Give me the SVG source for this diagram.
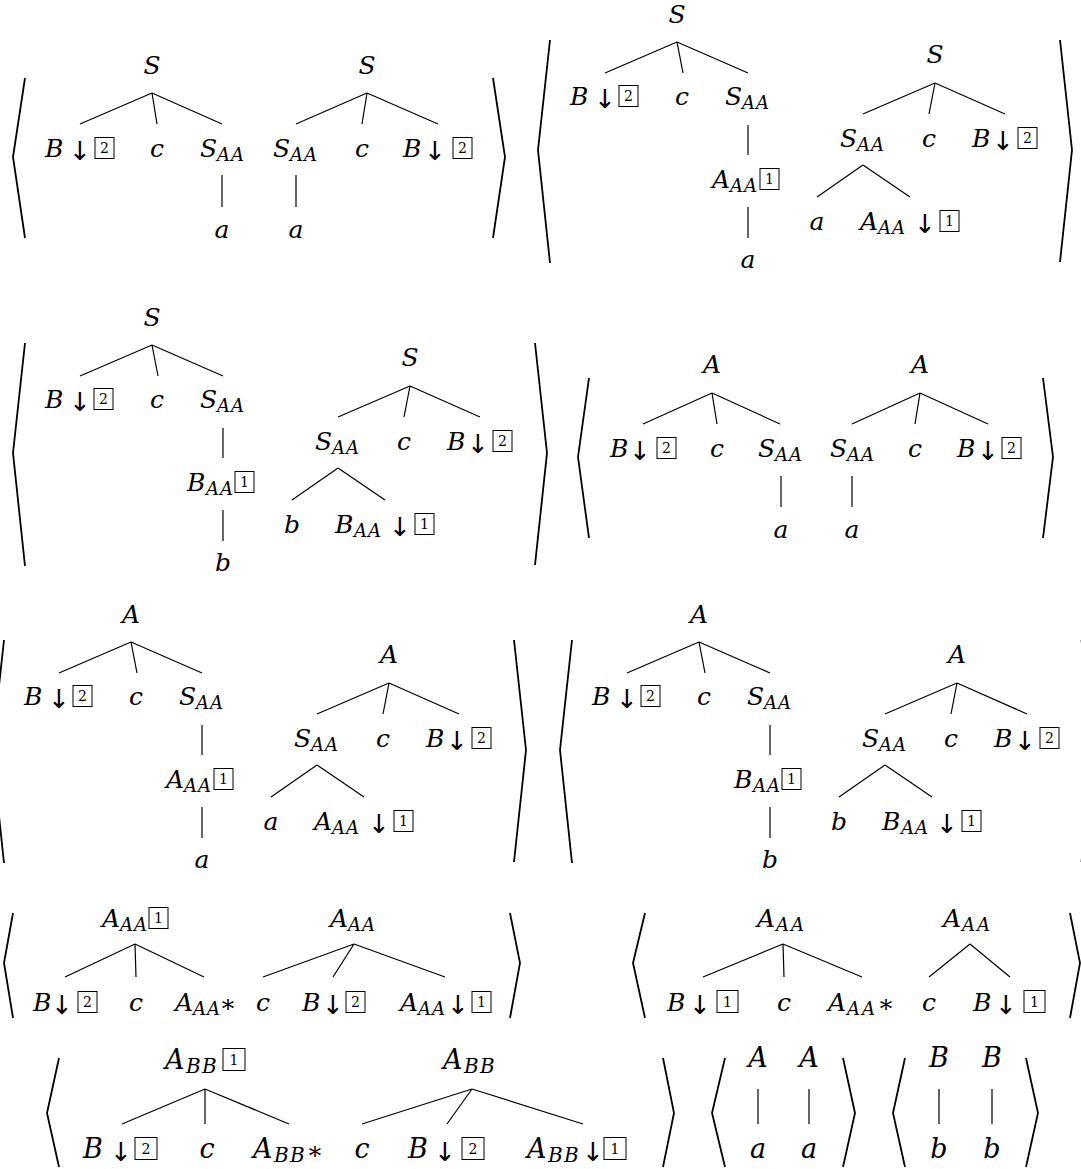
<svg xmlns="http://www.w3.org/2000/svg" width="1081" height="1169" viewBox="0 0 1081 1169">
<style>
.t{font-family:"DejaVu Serif",serif;font-style:italic;font-size:25px;fill:#000}
.L{font-size:27px}
.c{text-anchor:middle}
.sb{font-size:18px}
.sbL{font-size:20px}
.ar{font-family:"DejaVu Sans",sans-serif;font-style:normal;font-size:26px;text-anchor:middle;fill:#000}
.n{font-family:"DejaVu Serif",serif;font-style:normal;font-size:14px;text-anchor:middle;fill:#000}
.st{font-family:"DejaVu Serif",serif;font-style:normal;font-size:25px;text-anchor:middle;fill:#000}
.bx{fill:none;stroke:#000;stroke-width:1}
.e{stroke:#000;stroke-width:1.2;fill:none}
.br{stroke:#000;stroke-width:1.8;fill:none}
</style>
<rect width="1081" height="1169" fill="#fff"/>

<!-- angle brackets around each tree pair -->
<g id="brackets">
<path class="br" d="M25,78 L13,157 L25,238"/><path class="br" d="M493,78 L505,157 L493,238"/>
<path class="br" d="M550,40 L538,150 L550,263"/><path class="br" d="M1060,40 L1072,150 L1060,262"/>
<path class="br" d="M25,343 L13,453 L25,566"/><path class="br" d="M535,343 L547,453 L535,565"/>
<path class="br" d="M589,378 L578,457 L589,538"/><path class="br" d="M1043,378 L1053,457 L1043,538"/>
<path class="br" d="M4,640 L-8,750 L4,863"/><path class="br" d="M514,640 L526,750 L514,862"/>
<path class="br" d="M572,640 L560,750 L572,863"/><path class="br" d="M1081.5,640 L1093,750 L1081.5,862"/>
<path class="br" d="M13,913 L4,963 L13,1018"/><path class="br" d="M510,913 L520,963 L510,1018"/>
<path class="br" d="M645,913 L633,963 L645,1018"/><path class="br" d="M1070,913 L1080,963 L1070,1018"/>
<path class="br" d="M59,1058 L47,1113 L59,1167"/><path class="br" d="M663,1058 L674,1113 L663,1167"/>
<path class="br" d="M725,1058 L712,1113 L725,1167"/><path class="br" d="M843,1058 L855,1113 L843,1167"/>
<path class="br" d="M905,1058 L893,1113 L905,1167"/><path class="br" d="M1026,1058 L1038,1113 L1026,1167"/>
</g>

<!-- tree edges -->
<g id="edges">
<path class="e" d="M152,93 L80,124 M152,93 L157,124 M152,93 L222,124 M222,175 L222,207"/>
<path class="e" d="M367,93 L296,124 M367,93 L362,124 M367,93 L438,124 M296,175 L296,207"/>
<path class="e" d="M677,42 L605,73 M677,42 L683,73 M677,42 L748,73 M748,125 L748,155 M748,207 L748,238"/>
<path class="e" d="M935,83 L863,114 M935,83 L929,114 M935,83 L1005,114 M863,165 L817,197 M863,165 L910,197"/>
<path class="e" d="M152,345 L80,376 M152,345 L158,376 M152,345 L223,376 M223,428 L223,458 M223,510 L223,541"/>
<path class="e" d="M410,386 L338,417 M410,386 L404,417 M410,386 L480,417 M338,468 L292,500 M338,468 L385,500"/>
<path class="e" d="M712,393 L643,424 M712,393 L717,424 M712,393 L780,424 M781,476 L781,507"/>
<path class="e" d="M920,393 L852,424 M920,393 L915,424 M920,393 L988,424 M852,476 L852,507"/>
<path class="e" d="M131,642 L59,673 M131,642 L137,673 M131,642 L202,673 M202,725 L202,755 M202,807 L202,838"/>
<path class="e" d="M389,683 L317,714 M389,683 L383,714 M389,683 L459,714 M317,765 L271,797 M317,765 L364,797"/>
<path class="e" d="M699,642 L627,673 M699,642 L705,673 M699,642 L770,673 M770,725 L770,755 M770,807 L770,838"/>
<path class="e" d="M957,683 L885,714 M957,683 L951,714 M957,683 L1027,714 M885,765 L839,797 M885,765 L932,797"/>
<path class="e" d="M135,944 L65,977 M135,944 L136,977 M135,944 L204,977"/>
<path class="e" d="M354,944 L263,977 M354,944 L333,977 M354,944 L445,977"/>
<path class="e" d="M783,944 L703,977 M783,944 L784,977 M783,944 L862,977"/>
<path class="e" d="M970,944 L929,977 M970,944 L1010,977"/>
<path class="e" d="M205,1089 L122,1124 M205,1089 L205,1124 M205,1089 L289,1124"/>
<path class="e" d="M472,1089 L362,1124 M472,1089 L447,1124 M472,1089 L583,1124"/>
<path class="e" d="M758,1089 L758,1124 M809,1089 L809,1124 M939,1089 L939,1124 M992,1089 L992,1124"/>
</g>

<!-- pair 1 -->
<g id="p1-s1"><text class="t c" x="152" y="74">S</text></g>
<g id="p1-b1"><text class="t" x="45" y="157">B</text><text class="ar" x="80" y="160">↓</text><rect class="bx" x="95" y="137.5" width="19" height="21"/><text class="n" x="104.5" y="153">2</text></g>
<g id="p1-c1"><text class="t c" x="157" y="157">c</text></g>
<g id="p1-saa1"><text class="t" x="200" y="157">S<tspan class="sb" x="217 231" dy="4">AA</tspan></text></g>
<g id="p1-a1"><text class="t c" x="222" y="238">a</text></g>
<g id="p1-s2"><text class="t c" x="367" y="74">S</text></g>
<g id="p1-saa2"><text class="t" x="273" y="157">S<tspan class="sb" x="290 304" dy="4">AA</tspan></text></g>
<g id="p1-c2"><text class="t c" x="362" y="157">c</text></g>
<g id="p1-b2"><text class="t" x="403" y="157">B</text><text class="ar" x="435" y="160">↓</text><rect class="bx" x="453" y="137.5" width="19" height="21"/><text class="n" x="462.5" y="153">2</text></g>
<g id="p1-a2"><text class="t c" x="296" y="238">a</text></g>

<!-- pair 2 -->
<g id="p2-s1"><text class="t c" x="677" y="23">S</text></g>
<g id="p2-b1"><text class="t" x="570" y="105">B</text><text class="ar" x="605" y="108">↓</text><rect class="bx" x="619" y="85.5" width="19" height="21"/><text class="n" x="628.5" y="101">2</text></g>
<g id="p2-c1"><text class="t c" x="682" y="105">c</text></g>
<g id="p2-saa1"><text class="t" x="725" y="105">S<tspan class="sb" x="742 756" dy="4">AA</tspan></text></g>
<g id="p2-aaa1"><text class="t" x="712" y="188">A<tspan class="sb" x="730 744" dy="4">AA</tspan></text><rect class="bx" x="760" y="168.5" width="19" height="21"/><text class="n" x="769.5" y="184">1</text></g>
<g id="p2-a1"><text class="t c" x="748" y="268">a</text></g>
<g id="p2-s2"><text class="t c" x="935" y="63">S</text></g>
<g id="p2-saa2"><text class="t" x="840" y="147">S<tspan class="sb" x="857 871" dy="4">AA</tspan></text></g>
<g id="p2-c2"><text class="t c" x="929" y="147">c</text></g>
<g id="p2-b2"><text class="t" x="972" y="147">B</text><text class="ar" x="1003" y="150">↓</text><rect class="bx" x="1018" y="127.5" width="19" height="21"/><text class="n" x="1027.5" y="143">2</text></g>
<g id="p2-a2"><text class="t c" x="817" y="230">a</text></g>
<g id="p2-aaa2"><text class="t" x="860" y="230">A<tspan class="sb" x="878 892" dy="4">AA</tspan></text><text class="ar" x="925" y="233">↓</text><rect class="bx" x="940" y="210.5" width="19" height="21"/><text class="n" x="949.5" y="226">1</text></g>

<!-- pair 3 -->
<g id="p3-s1"><text class="t c" x="152" y="326">S</text></g>
<g id="p3-b1"><text class="t" x="45" y="408">B</text><text class="ar" x="80" y="411">↓</text><rect class="bx" x="94" y="388.5" width="19" height="21"/><text class="n" x="103.5" y="404">2</text></g>
<g id="p3-c1"><text class="t c" x="157" y="408">c</text></g>
<g id="p3-saa1"><text class="t" x="200" y="408">S<tspan class="sb" x="217 231" dy="4">AA</tspan></text></g>
<g id="p3-baa1"><text class="t" x="187" y="491">B<tspan class="sb" x="206 220" dy="4">AA</tspan></text><rect class="bx" x="235" y="471.5" width="19" height="21"/><text class="n" x="244.5" y="487">1</text></g>
<g id="p3-b-leaf1"><text class="t c" x="223" y="571">b</text></g>
<g id="p3-s2"><text class="t c" x="410" y="366">S</text></g>
<g id="p3-saa2"><text class="t" x="315" y="450">S<tspan class="sb" x="332 346" dy="4">AA</tspan></text></g>
<g id="p3-c2"><text class="t c" x="404" y="450">c</text></g>
<g id="p3-b2"><text class="t" x="447" y="450">B</text><text class="ar" x="478" y="453">↓</text><rect class="bx" x="493" y="430.5" width="19" height="21"/><text class="n" x="502.5" y="446">2</text></g>
<g id="p3-b-leaf2"><text class="t c" x="292" y="533">b</text></g>
<g id="p3-baa2"><text class="t" x="335" y="533">B<tspan class="sb" x="354 368" dy="4">AA</tspan></text><text class="ar" x="400" y="536">↓</text><rect class="bx" x="415" y="513.5" width="19" height="21"/><text class="n" x="424.5" y="529">1</text></g>

<!-- pair 4 -->
<g id="p4-a1"><text class="t c" x="712" y="373">A</text></g>
<g id="p4-b1"><text class="t" x="610" y="457">B</text><text class="ar" x="640" y="460">↓</text><rect class="bx" x="657" y="437.5" width="19" height="21"/><text class="n" x="666.5" y="453">2</text></g>
<g id="p4-c1"><text class="t c" x="717" y="457">c</text></g>
<g id="p4-saa1"><text class="t" x="758" y="457">S<tspan class="sb" x="775 789" dy="4">AA</tspan></text></g>
<g id="p4-a-leaf1"><text class="t c" x="781" y="538">a</text></g>
<g id="p4-a2"><text class="t c" x="920" y="373">A</text></g>
<g id="p4-saa2"><text class="t" x="830" y="457">S<tspan class="sb" x="847 861" dy="4">AA</tspan></text></g>
<g id="p4-c2"><text class="t c" x="915" y="457">c</text></g>
<g id="p4-b2"><text class="t" x="957" y="457">B</text><text class="ar" x="988" y="460">↓</text><rect class="bx" x="1002" y="437.5" width="19" height="21"/><text class="n" x="1011.5" y="453">2</text></g>
<g id="p4-a-leaf2"><text class="t c" x="852" y="538">a</text></g>

<!-- pair 5 -->
<g id="p5-a1"><text class="t c" x="131" y="623">A</text></g>
<g id="p5-b1"><text class="t" x="24" y="705">B</text><text class="ar" x="59" y="708">↓</text><rect class="bx" x="73" y="685.5" width="19" height="21"/><text class="n" x="82.5" y="701">2</text></g>
<g id="p5-c1"><text class="t c" x="136" y="705">c</text></g>
<g id="p5-saa1"><text class="t" x="179" y="705">S<tspan class="sb" x="196 210" dy="4">AA</tspan></text></g>
<g id="p5-aaa1"><text class="t" x="166" y="788">A<tspan class="sb" x="184 198" dy="4">AA</tspan></text><rect class="bx" x="214" y="768.5" width="19" height="21"/><text class="n" x="223.5" y="784">1</text></g>
<g id="p5-a-leaf1"><text class="t c" x="202" y="868">a</text></g>
<g id="p5-a2"><text class="t c" x="389" y="663">A</text></g>
<g id="p5-saa2"><text class="t" x="294" y="747">S<tspan class="sb" x="311 325" dy="4">AA</tspan></text></g>
<g id="p5-c2"><text class="t c" x="383" y="747">c</text></g>
<g id="p5-b2"><text class="t" x="426" y="747">B</text><text class="ar" x="457" y="750">↓</text><rect class="bx" x="472" y="727.5" width="19" height="21"/><text class="n" x="481.5" y="743">2</text></g>
<g id="p5-a-leaf2"><text class="t c" x="271" y="830">a</text></g>
<g id="p5-aaa2"><text class="t" x="314" y="830">A<tspan class="sb" x="332 346" dy="4">AA</tspan></text><text class="ar" x="379" y="833">↓</text><rect class="bx" x="394" y="810.5" width="19" height="21"/><text class="n" x="403.5" y="826">1</text></g>

<!-- pair 6 -->
<g id="p6-a1"><text class="t c" x="699" y="623">A</text></g>
<g id="p6-b1"><text class="t" x="592" y="705">B</text><text class="ar" x="627" y="708">↓</text><rect class="bx" x="641" y="685.5" width="19" height="21"/><text class="n" x="650.5" y="701">2</text></g>
<g id="p6-c1"><text class="t c" x="704" y="705">c</text></g>
<g id="p6-saa1"><text class="t" x="747" y="705">S<tspan class="sb" x="764 778" dy="4">AA</tspan></text></g>
<g id="p6-baa1"><text class="t" x="734" y="788">B<tspan class="sb" x="753 767" dy="4">AA</tspan></text><rect class="bx" x="782" y="768.5" width="19" height="21"/><text class="n" x="791.5" y="784">1</text></g>
<g id="p6-b-leaf1"><text class="t c" x="770" y="868">b</text></g>
<g id="p6-a2"><text class="t c" x="957" y="663">A</text></g>
<g id="p6-saa2"><text class="t" x="862" y="747">S<tspan class="sb" x="879 893" dy="4">AA</tspan></text></g>
<g id="p6-c2"><text class="t c" x="951" y="747">c</text></g>
<g id="p6-b2"><text class="t" x="994" y="747">B</text><text class="ar" x="1025" y="750">↓</text><rect class="bx" x="1040" y="727.5" width="19" height="21"/><text class="n" x="1049.5" y="743">2</text></g>
<g id="p6-b-leaf2"><text class="t c" x="839" y="830">b</text></g>
<g id="p6-baa2"><text class="t" x="882" y="830">B<tspan class="sb" x="901 915" dy="4">AA</tspan></text><text class="ar" x="947" y="833">↓</text><rect class="bx" x="962" y="810.5" width="19" height="21"/><text class="n" x="971.5" y="826">1</text></g>

<!-- pair 7 -->
<g id="p7-aaa1"><text class="t" x="102" y="927">A<tspan class="sb" x="120 134" dy="4">AA</tspan></text><rect class="bx" x="149" y="907.5" width="19" height="21"/><text class="n" x="158.5" y="923">1</text></g>
<g id="p7-b1"><text class="t" x="33" y="1011">B</text><text class="ar" x="62" y="1014">↓</text><rect class="bx" x="78" y="991.5" width="19" height="21"/><text class="n" x="87.5" y="1007">2</text></g>
<g id="p7-c1"><text class="t c" x="136" y="1011">c</text></g>
<g id="p7-foot"><text class="t" x="175" y="1011">A<tspan class="sb" x="193 207" dy="4">AA</tspan></text><text class="st" x="228" y="1017">*</text></g>
<g id="p7-c2"><text class="t c" x="263" y="1011">c</text></g>
<g id="p7-aaa2"><text class="t" x="330" y="927">A<tspan class="sb" x="348 362" dy="4">AA</tspan></text></g>
<g id="p7-b2"><text class="t" x="302" y="1011">B</text><text class="ar" x="333" y="1014">↓</text><rect class="bx" x="346" y="991.5" width="19" height="21"/><text class="n" x="355.5" y="1007">2</text></g>
<g id="p7-aaa3"><text class="t" x="400" y="1011">A<tspan class="sb" x="418 432" dy="4">AA</tspan></text><text class="ar" x="458" y="1014">↓</text><rect class="bx" x="472" y="991.5" width="19" height="21"/><text class="n" x="481.5" y="1007">1</text></g>

<!-- pair 8 -->
<g id="p8-aaa1"><text class="t" x="757" y="927">A<tspan class="sb" x="776 791" dy="4">AA</tspan></text></g>
<g id="p8-b1"><text class="t" x="667" y="1011">B</text><text class="ar" x="700" y="1014">↓</text><rect class="bx" x="717" y="990.5" width="21" height="22"/><text class="n" x="727.5" y="1007">1</text></g>
<g id="p8-c1"><text class="t c" x="784" y="1011">c</text></g>
<g id="p8-foot"><text class="t" x="828" y="1011">A<tspan class="sb" x="847 862" dy="4">AA</tspan></text><text class="st" x="886" y="1017">*</text></g>
<g id="p8-c2"><text class="t c" x="929" y="1011">c</text></g>
<g id="p8-b2"><text class="t" x="973" y="1011">B</text><text class="ar" x="1006" y="1014">↓</text><rect class="bx" x="1024" y="990.5" width="21" height="22"/><text class="n" x="1034.5" y="1007">1</text></g>
<g id="p8-aaa2"><text class="t" x="943" y="927">A<tspan class="sb" x="962 977" dy="4">AA</tspan></text></g>

<!-- pair 9 -->
<g id="p9-abb1"><text class="t L" x="165" y="1069">A<tspan class="sbL" x="186 202" dy="4">BB</tspan></text><rect class="bx" x="223" y="1048.5" width="22" height="22"/><text class="n" x="234" y="1065">1</text></g>
<g id="p9-b1"><text class="t L" x="83" y="1158">B</text><text class="ar" x="121" y="1161">↓</text><rect class="bx" x="135" y="1137.5" width="22" height="22"/><text class="n" x="146" y="1154">2</text></g>
<g id="p9-c1"><text class="t L c" x="207" y="1158">c</text></g>
<g id="p9-foot"><text class="t L" x="253" y="1158">A<tspan class="sbL" x="274 290" dy="4">BB</tspan></text><text class="st" x="315" y="1164">*</text></g>
<g id="p9-c2"><text class="t L c" x="362" y="1158">c</text></g>
<g id="p9-abb2"><text class="t L" x="443" y="1069">A<tspan class="sbL" x="464 480" dy="4">BB</tspan></text></g>
<g id="p9-b2"><text class="t L" x="408" y="1158">B</text><text class="ar" x="445" y="1161">↓</text><rect class="bx" x="462" y="1137.5" width="22" height="22"/><text class="n" x="473" y="1154">2</text></g>
<g id="p9-abb3"><text class="t L" x="527" y="1158">A<tspan class="sbL" x="548 564" dy="4">BB</tspan></text><text class="ar" x="593" y="1161">↓</text><rect class="bx" x="604" y="1137.5" width="22" height="22"/><text class="n" x="615" y="1154">1</text></g>

<!-- pair 10 -->
<g id="p10-A1"><text class="t L c" x="758" y="1067">A</text></g>
<g id="p10-A2"><text class="t L c" x="809" y="1067">A</text></g>
<g id="p10-a1"><text class="t L c" x="758" y="1158">a</text></g>
<g id="p10-a2"><text class="t L c" x="809" y="1158">a</text></g>

<!-- pair 11 -->
<g id="p11-B1"><text class="t L c" x="939" y="1067">B</text></g>
<g id="p11-B2"><text class="t L c" x="992" y="1067">B</text></g>
<g id="p11-b1"><text class="t L c" x="939" y="1158">b</text></g>
<g id="p11-b2"><text class="t L c" x="992" y="1158">b</text></g>
</svg>
